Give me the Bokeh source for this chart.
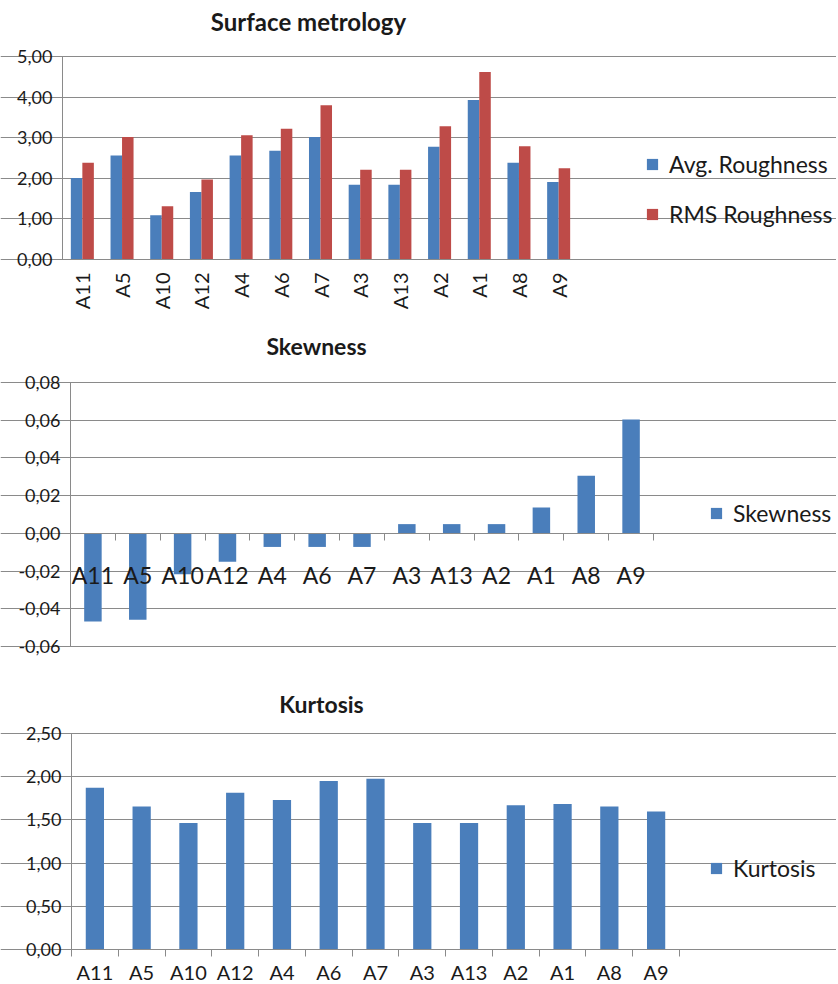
import math
from bokeh.plotting import figure
from bokeh.models import (Range1d, FixedTicker, CustomJSTickFormatter, Legend,
                          LegendItem, ColumnDataSource, Label)
from bokeh.layouts import column
from bokeh.embed import file_html
from bokeh.resources import INLINE

# ---------------- data ----------------
samples = ["A11", "A5", "A10", "A12", "A4", "A6", "A7", "A3", "A13", "A2", "A1", "A8", "A9"]
avg_roughness = [2.01, 2.56, 1.09, 1.66, 2.56, 2.68, 3.02, 1.84, 1.84, 2.78, 3.93, 2.38, 1.91]
rms_roughness = [2.38, 3.02, 1.31, 1.97, 3.06, 3.22, 3.80, 2.21, 2.21, 3.28, 4.62, 2.79, 2.25]
skewness = [-0.0467, -0.0458, -0.0217, -0.0151, -0.0072, -0.0072, -0.0072,
            0.0049, 0.0049, 0.0049, 0.0137, 0.0306, 0.0604]
kurtosis = [1.873, 1.654, 1.465, 1.815, 1.731, 1.950, 1.977, 1.465, 1.465, 1.669, 1.685, 1.654, 1.596]

roughness_ticks = [0, 1, 2, 3, 4, 5]
skew_ticks = [-0.06, -0.04, -0.02, 0.0, 0.02, 0.04, 0.06, 0.08]
kurt_ticks = [0, 0.5, 1, 1.5, 2, 2.5]

# ---------------- style ----------------
FONT = "Lato"
BLUE = "#4A7EBB"
RED = "#BE4B48"
GRID = "#8A8A8A"
AXIS = "#8A8A8A"
TXT = "#1a1a1a"
W = 836

n = len(samples)
centers = [float(i) + 0.5 for i in range(n)]
bounds = [float(i) for i in range(n + 1)]
label_map = {c: s for c, s in zip(centers, samples)}

fmt = CustomJSTickFormatter(code="return tick.toFixed(2).replace('.', ',');")


def base_fig(height, ylo, yhi, yticks, px_left, px_right, px_top, px_bottom):
    """px_* : pixel position of the plotting area inside the figure."""
    xppu = (px_right - px_left) / n
    yppu = (px_bottom - px_top) / (yhi - ylo)
    xr = Range1d(-px_left / xppu, n + (W - px_right) / xppu)
    yr = Range1d(ylo - (height - px_bottom) / yppu, yhi + px_top / yppu)
    p = figure(width=W, height=height, output_backend="svg", toolbar_location=None,
               x_range=xr, y_range=yr,
               min_border_left=0, min_border_right=0, min_border_top=0, min_border_bottom=0)
    p.title.visible = False
    p.outline_line_color = None
    p.background_fill_color = "white"
    p.border_fill_color = "white"
    # y axis
    yt = FixedTicker(ticks=yticks)
    p.yaxis.ticker = yt
    p.yaxis.formatter = fmt
    p.yaxis.fixed_location = 0
    p.yaxis.bounds = (ylo, yhi)
    p.yaxis.major_label_text_font = FONT
    p.yaxis.major_label_text_font_size = "18px"
    p.yaxis.major_label_text_color = TXT
    p.yaxis.axis_line_color = AXIS
    p.yaxis.major_tick_line_color = AXIS
    p.yaxis.major_tick_out = 6
    p.yaxis.major_tick_in = 0
    p.yaxis.minor_tick_line_color = None
    p.yaxis.major_label_standoff = 4
    p.ygrid.ticker = yt
    p.ygrid.bounds = (0, n)
    p.ygrid.grid_line_color = GRID
    p.ygrid.grid_line_width = 1
    p.xgrid.grid_line_color = None
    # x axis
    p.xaxis.ticker = FixedTicker(ticks=centers, minor_ticks=bounds)
    p.xaxis.major_label_overrides = label_map
    p.xaxis.fixed_location = 0
    p.xaxis.bounds = (0, n)
    p.xaxis.major_label_text_font = FONT
    p.xaxis.major_label_text_color = TXT
    p.xaxis.axis_line_color = AXIS
    p.xaxis.major_tick_line_color = None
    p.xaxis.major_tick_out = 0
    p.xaxis.major_tick_in = 0
    p.xaxis.minor_tick_line_color = AXIS
    p.xaxis.minor_tick_out = 7
    p.xaxis.minor_tick_in = 0
    return p


def add_title(p, text, cx, cy_from_top, size):
    p.add_layout(Label(x=cx, y=p.height - cy_from_top, x_units="screen", y_units="screen",
                       text=text, text_align="center", text_baseline="middle",
                       text_font=FONT, text_font_size=size, text_font_style="bold",
                       text_color=TXT))


def make_legend(items, x, bottom_from_fig_bottom):
    lg = Legend(items=items, location=(x, bottom_from_fig_bottom))
    lg.label_text_font = FONT
    lg.label_text_font_size = "23px"
    lg.label_text_color = TXT
    lg.glyph_width = 14
    lg.glyph_height = 14
    lg.label_height = 20
    lg.padding = 0
    lg.margin = 0
    lg.border_line_color = None
    lg.background_fill_alpha = 0
    lg.label_standoff = 10
    return lg


# ---------------- chart 1: Surface metrology ----------------
H1 = 320
src1 = ColumnDataSource(dict(
    x_avg=[c - 0.145 for c in centers], x_rms=[c + 0.145 for c in centers],
    avg=avg_roughness, rms=rms_roughness))
p1 = base_fig(H1, 0, 5, roughness_ticks, 62, 578, 56, 259)
r1 = p1.vbar(x="x_avg", top="avg", bottom=0, width=0.29, source=src1,
             fill_color=BLUE, line_color=None)
r2 = p1.vbar(x="x_rms", top="rms", bottom=0, width=0.29, source=src1,
             fill_color=RED, line_color=None)
p1.xaxis.major_label_orientation = math.pi / 2
p1.xaxis.major_label_text_font_size = "20px"
p1.xaxis.minor_tick_line_color = None
p1.xaxis.major_label_standoff = 6
add_title(p1, "Surface metrology", 308, 21, "24px")
lg1 = make_legend([LegendItem(label="Avg. Roughness", renderers=[r1]),
                   LegendItem(label="RMS Roughness", renderers=[r2])], 645, H1 - 228)
lg1.spacing = 22
p1.add_layout(lg1)

# ---------------- chart 2: Skewness ----------------
H2 = 360
src2 = ColumnDataSource(dict(x=centers, v=skewness))
p2 = base_fig(H2, -0.06, 0.08, skew_ticks, 70, 653, 62, 326)
r3 = p2.vbar(x="x", top="v", bottom=0, width=0.39, source=src2,
             fill_color=BLUE, line_color=None)
p2.xaxis.major_label_text_font_size = "23px"
p2.xaxis.major_label_standoff = 21
add_title(p2, "Skewness", 316, 25, "23px")
lg2 = make_legend([LegendItem(label="Skewness", renderers=[r3])], 709, H2 - 207)
p2.add_layout(lg2)

# ---------------- chart 3: Kurtosis ----------------
H3 = 304
src3 = ColumnDataSource(dict(x=centers, v=kurtosis))
p3 = base_fig(H3, 0, 2.5, kurt_ticks, 71, 679, 53, 269)
r4 = p3.vbar(x="x", top="v", bottom=0, width=0.39, source=src3,
             fill_color=BLUE, line_color=None)
p3.xaxis.major_label_text_font_size = "20px"
p3.xaxis.major_label_standoff = 3
add_title(p3, "Kurtosis", 321, 23, "23px")
lg3 = make_legend([LegendItem(label="Kurtosis", renderers=[r4])], 709, H3 - 202)
p3.add_layout(lg3)

layout = column(p1, p2, p3, spacing=0)
open("out.html", "w").write(file_html(layout, INLINE))
